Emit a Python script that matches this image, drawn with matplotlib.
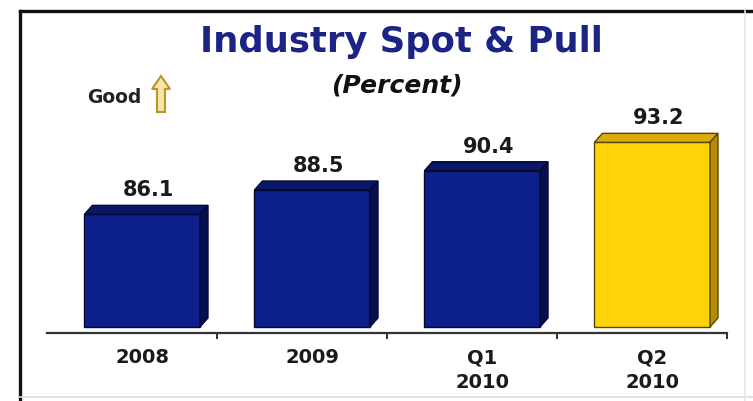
import matplotlib
matplotlib.use("Agg")
import matplotlib.pyplot as plt
import numpy as np
from matplotlib.patches import Polygon, FancyArrow
from matplotlib.transforms import IdentityTransform
from matplotlib.lines import Line2D

# ---- data ----
categories = ["2008", "2009", "Q1\n2010", "Q2\n2010"]
values = [86.1, 88.5, 90.4, 93.2]
highlight = [False, False, False, True]
base_value = 75.0

title = "Industry Spot & Pull"
subtitle = "(Percent)"
good_label = "Good"

W, H = 753, 401
fig = plt.figure(figsize=(W / 100, H / 100), dpi=100)
fig.patch.set_facecolor("white")

def fy(py):
    return (H - py) / H

ax = fig.add_axes([47 / W, fy(333), (727 - 47) / W, (333 - 110) / H])
ax.set_facecolor("none")

x = np.arange(len(categories))
shift = 0.06
bw = 0.68
ax.set_xlim(-0.5, len(categories) - 0.5)
ax.set_ylim(74.4, 96.39)

front_blue, top_blue, side_blue, edge_blue = "#0d1f8a", "#0a1666", "#061050", "#020a30"
front_yel, top_yel, side_yel, edge_yel = "#ffd30a", "#d9ab0c", "#b58c05", "#5a4600"

heights = [v - base_value for v in values]
colors = [front_yel if h else front_blue for h in highlight]
edges = [edge_yel if h else edge_blue for h in highlight]
bars = ax.bar(x + shift, heights, bottom=base_value, width=bw, color=colors,
              edgecolor=edges, linewidth=1.0, zorder=3)

# 3D faces in display space
fig.canvas.draw()
dx, dy = 8, 9
for b, hl in zip(bars, highlight):
    x0, y0 = b.get_x(), b.get_y()
    x1, y1 = x0 + b.get_width(), y0 + b.get_height()
    (X0, Y0) = ax.transData.transform((x0, y0))
    (X1, Y1) = ax.transData.transform((x1, y1))
    tc = top_yel if hl else top_blue
    sc = side_yel if hl else side_blue
    ec = edge_yel if hl else edge_blue
    top = Polygon([(X0, Y1), (X1, Y1), (X1 + dx, Y1 + dy), (X0 + dx, Y1 + dy)],
                  closed=True, facecolor=tc, edgecolor=ec, linewidth=1.0,
                  transform=IdentityTransform(), zorder=2)
    side = Polygon([(X1, Y0), (X1, Y1), (X1 + dx, Y1 + dy), (X1 + dx, Y0 + dy)],
                   closed=True, facecolor=sc, edgecolor=ec, linewidth=1.0,
                   transform=IdentityTransform(), zorder=2)
    fig.add_artist(top)
    fig.add_artist(side)

# value labels
for xi, v in zip(x, values):
    ax.annotate(f"{v:.1f}", xy=(xi + shift, v), xytext=(4.5, 13),
                textcoords="offset points", ha="center", va="baseline",
                fontsize=15, fontweight="bold", color="#1a1a1a",
                family="DejaVu Sans", zorder=5)

# axes styling
for s in ["left", "right", "top"]:
    ax.spines[s].set_visible(False)
ax.spines["bottom"].set_color("#333333")
ax.spines["bottom"].set_linewidth(1.6)
ax.set_yticks([])
ax.set_xticks(x + shift)
ax.set_xticklabels(categories, fontsize=14, fontweight="bold", color="#1a1a1a",
                   family="DejaVu Sans", linespacing=1.35)
ax.tick_params(axis="x", length=0, pad=11)
ax.set_xticks(np.arange(len(categories)) + 0.5, minor=True)
ax.tick_params(axis="x", which="minor", length=4, width=1.4, color="#333333",
               direction="out")

# titles
fig.text(401 / W, fy(52), title, ha="center", va="baseline", fontsize=25.5,
         fontweight="bold", color="#1b2485", family="DejaVu Sans")
fig.text(397 / W, fy(92), subtitle, ha="center", va="baseline", fontsize=18,
         fontweight="bold", style="italic", color="#111111", family="DejaVu Sans")
fig.text(87 / W, fy(103), good_label, ha="left", va="baseline", fontsize=13.5,
         fontweight="bold", color="#222222", family="DejaVu Sans")

arrow = FancyArrow(161, H - 112, 0, 36, width=8, head_width=18, head_length=13,
                   length_includes_head=True, facecolor="#f3e6a6",
                   edgecolor="#b8962a", linewidth=1.5, transform=IdentityTransform())
fig.add_artist(arrow)

# frame
fig.add_artist(Line2D([19.5 / W, 1.0], [fy(11), fy(11)], transform=fig.transFigure,
                      color="#111111", linewidth=2.4))
fig.add_artist(Line2D([19.5 / W, 19.5 / W], [fy(11), 0.0], transform=fig.transFigure,
                      color="#111111", linewidth=2.4))
fig.add_artist(Line2D([19.5 / W, 1.0], [fy(397), fy(397)], transform=fig.transFigure,
                      color="#dddddd", linewidth=1.2))
fig.add_artist(Line2D([745 / W, 745 / W], [fy(11), 0.0], transform=fig.transFigure,
                      color="#e6e6e6", linewidth=1.2))

fig.savefig("out.png", dpi=100)
